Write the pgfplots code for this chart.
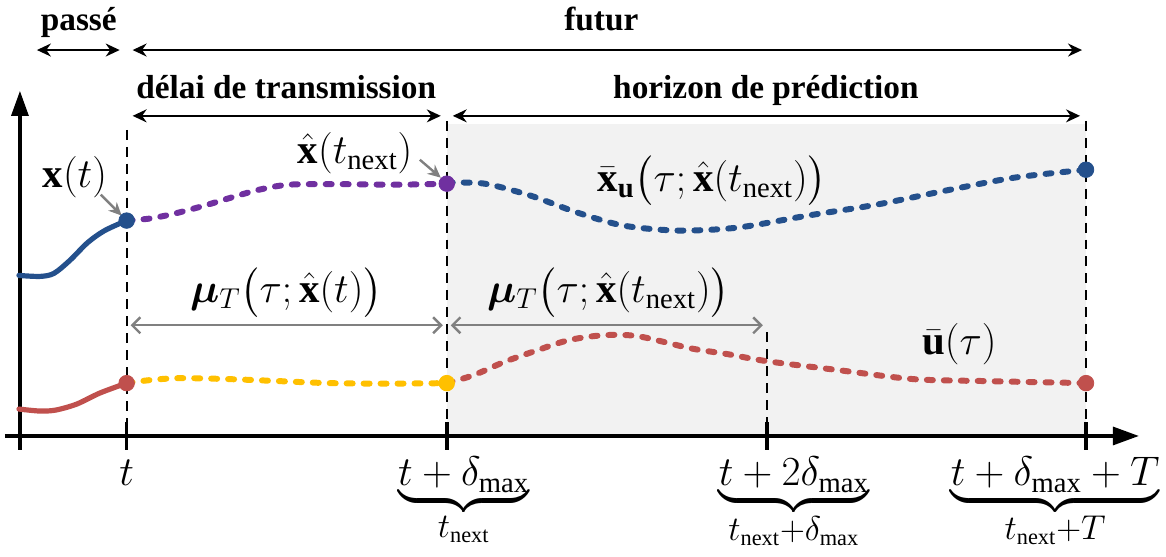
\documentclass[border=0pt]{standalone}
\usepackage{pgfplots}
\pgfplotsset{compat=1.18}
\usepackage{fontspec}
\setmainfont{Liberation Serif}
\usepackage{amsmath,bm}
\usetikzlibrary{arrows.meta}
\definecolor{cblue}{RGB}{36,80,140}
\definecolor{cpurple}{RGB}{112,48,160}
\definecolor{cred}{RGB}{192,80,77}
\definecolor{cyellow}{RGB}{255,192,0}
\definecolor{cgray}{RGB}{128,128,128}
\definecolor{cshade}{RGB}{242,242,242}
\newcommand{\sub}[1]{\text{\fontsize{16}{18}\selectfont$#1$}}
\tikzset{
  txt/.style={font=\fontsize{16.7}{20}\selectfont\bfseries},
  mth/.style={font=\fontsize{20.5}{24}\selectfont},
  harr/.style={line width=1pt,{Stealth[length=7pt,width=6.5pt]}-{Stealth[length=7pt,width=6.5pt]}},
  garr/.style={cgray,line width=1.2pt,{Straight Barb[length=4pt,width=8pt]}-{Straight Barb[length=4pt,width=8pt]}},
  callout/.style={cgray,line width=1.2pt,-{Stealth[length=6.5pt,width=6pt]}},
  vdash/.style={line width=1pt,dash pattern=on 5pt off 3.5pt},
  solidc/.style={line width=2.6pt,line cap=round,smooth},
  dashc/.style={line width=3pt,line cap=round,dash pattern=on 3pt off 5.5pt,smooth},
  dot/.style={only marks,mark=*,mark size=3.9pt},
}
\begin{document}
\begin{tikzpicture}
\begin{axis}[hide axis, scale only axis, width=583pt, height=271pt,
  xmin=0, xmax=1166, ymin=0, ymax=542, y dir=reverse, clip=false]
\path (0,0) rectangle (1166,542);
% horizon de prediction
\fill[cshade] (448,121) rectangle (1089,434);
% vertical dashed guides
\draw[vdash] (127,127) -- (127,434);
\draw[vdash] (448,118) -- (448,434);
\draw[vdash] (769,330) -- (769,434);
\draw[vdash] (1089,118) -- (1089,434);
% axes
\draw[line width=1.6pt,-{Triangle[length=12.5pt,width=8.5pt]}] (20,448) -- (20,88);
\draw[line width=1.6pt,-{Triangle[length=13pt,width=9pt]}] (5,434) -- (1142,434);
\pgfplotsinvokeforeach{20,127,448,769,1089}{\draw[line width=1.8pt] (#1,420) -- (#1,448);}
% top arrows and text
\draw[harr] (37,47) -- (120,47);
\draw[harr] (133,47) -- (1085,47);
\draw[harr] (133,113) -- (442,113);
\draw[harr] (454,113) -- (1083,113);
\node[txt,anchor=base] at (79,27) {passé};
\node[txt,anchor=base] at (603,27) {futur};
\node[txt,anchor=base] at (287,96) {délai de transmission};
\node[txt,anchor=base] at (768,96) {horizon de prédiction};
% trajectories
\addplot[solidc,cblue] coordinates {(19,273)(40,274)(54,271)(70,258)(88,240)(105,228)(127,218)};
\addplot[dashc,cpurple] coordinates {(127,218)(150,216)(175,211)(205,203)(235,194)(260,187)(290,182)(340,181.5)(400,182)(448,181)};
\addplot[dashc,cblue] coordinates {(448,180)(486,181)(532,193)(579,210)(625,223)(680,228)(740,225)(810,213)(879,202)(948,188)(1017,175)(1089,167)};
\addplot[solidc,cred] coordinates {(19,407)(40,409)(56,408)(77,402)(100,391)(127,381)};
\addplot[dashc,cyellow] coordinates {(127,381)(150,378)(180,376)(230,377)(280,379)(330,381)(390,381.5)(448,381)};
\addplot[dashc,cred] coordinates {(448,381)(475,373)(505,360)(536,349)(570,338)(605,333)(640,334)(692,346)(730,352)(769,359)(841,368)(916,377)(990,379)(1089,381)};
\addplot[dot,cblue] coordinates {(127,218)(1089,167)};
\addplot[dot,cpurple] coordinates {(448,181)};
\addplot[dot,cred] coordinates {(127,381)(1089,381)};
\addplot[dot,cyellow] coordinates {(448,381)};
% horizon arrows
\draw[garr] (131,323) -- (444,323);
\draw[garr] (452,323) -- (765,323);
% callouts
\draw[callout] (101,192) -- (122,213);
\draw[callout] (421,157) -- (442,175);
% math labels
\node[mth] at (75,174) {$\mathbf{x}(t)$};
\node[mth] at (356,150) {$\hat{\mathbf{x}}(t_{\mathrm{next}})$};
\node[mth] at (714,178) {$\bar{\mathbf{x}}_{\mathbf{u}}\bigl(\tau;\hat{\mathbf{x}}(t_{\mathrm{next}})\bigr)$};
\node[mth] at (287,290) {$\bm{\mu}_T\bigl(\tau;\hat{\mathbf{x}}(t)\bigr)$};
\node[mth] at (610,290) {$\bm{\mu}_T\bigl(\tau;\hat{\mathbf{x}}(t_{\mathrm{next}})\bigr)$};
\node[mth] at (962,342) {$\bar{\mathbf{u}}(\tau)$};
% tick labels
\node[mth,anchor=base] at (127,484) {$t$};
\node[mth,anchor=base] at (465,484) {$\underbrace{t+\delta_{\max}}_{\sub{t_{\mathrm{next}}}}$};
\node[mth,anchor=base] at (796,484) {$\underbrace{t+2\delta_{\max}}_{\sub{t_{\mathrm{next}}{+}\delta_{\max}}}$};
\node[mth,anchor=base] at (1058,484) {$\underbrace{t+\delta_{\max}+T}_{\sub{t_{\mathrm{next}}{+}T}}$};
\end{axis}
\end{tikzpicture}
\end{document}
